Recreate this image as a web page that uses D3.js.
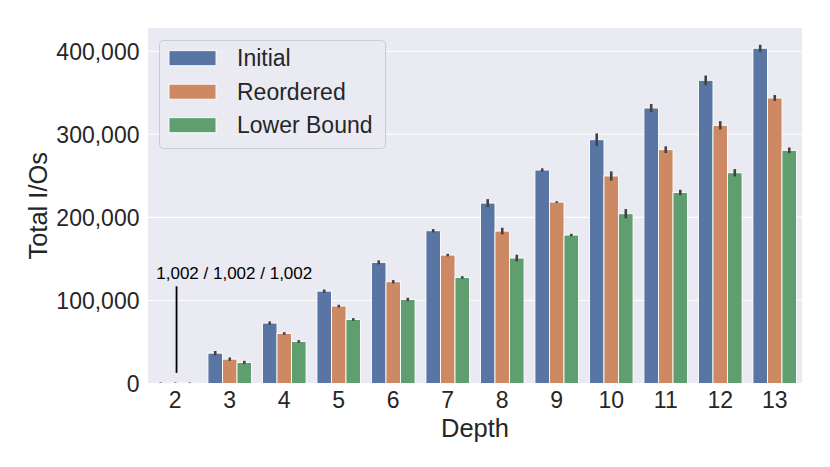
<!DOCTYPE html>
<html>
<head>
<meta charset="utf-8">
<script src="https://cdn.jsdelivr.net/npm/d3@7"></script>
<style>
  html, body { margin: 0; padding: 0; background: #ffffff; }
  svg { display: block; }
  text { font-family: "Liberation Sans", Arial, sans-serif; fill: #262626; }
</style>
</head>
<body>
<svg id="chart" width="830" height="467"></svg>
<script>
const depths = [2, 3, 4, 5, 6, 7, 8, 9, 10, 11, 12, 13];
const seriesNames = ["Initial", "Reordered", "Lower Bound"];
const initial    = [1002, 36500, 72700, 111200, 145800, 183900, 217200, 257000, 293500, 331700, 365000, 403600];
const reordered  = [1002, 29300, 60200,  93200, 122500, 154600, 183500, 218400, 249800, 281500, 310800, 343700];
const lowerBound = [1002, 25300, 50600,  77100, 101200, 127700, 151000, 178700, 204400, 230000, 253700, 280700];
const initialErr    = [300, 2600, 2000, 2000, 2400, 2000, 4800, 2000, 7600, 4800, 5800, 4200];
const reorderedErr  = [300, 2000, 1600, 1600, 2000, 1500, 4000, 1000, 5600, 4000, 5000, 3600];
const lowerBoundErr = [300, 2000, 1600, 1600, 2000, 1500, 4000, 1500, 5600, 3200, 4400, 3400];
const yTicks = [0, 100000, 200000, 300000, 400000];
const colors = ["#5975a4", "#cc8963", "#5f9e6e"];

(function () {
const values = [initial, reordered, lowerBound];
const errs = [initialErr, reorderedErr, lowerBoundErr];

const svg = d3.select("#chart");
const pl = 148, pr = 802, pt = 28, pb = 383.5;

const x = d3.scaleBand().domain(depths).range([pl, pr]).padding(0);
const inner = d3.scaleBand().domain(seriesNames)
  .range([x.bandwidth() * 0.1, x.bandwidth() * 0.9]).padding(0);
const y = d3.scaleLinear().domain([0, 428000]).range([pb, pt]);

// background
svg.append("rect").attr("x", pl).attr("y", pt)
  .attr("width", pr - pl).attr("height", pb - pt).attr("fill", "#eaeaf2");

// gridlines
svg.append("g").selectAll("line").data(yTicks).join("line")
  .attr("x1", pl).attr("x2", pr)
  .attr("y1", d => y(d)).attr("y2", d => y(d))
  .attr("stroke", "#ffffff").attr("stroke-width", 1.1);

// bars
const rows = [];
depths.forEach((dep, i) => {
  seriesNames.forEach((s, j) => {
    rows.push({ dep, s, j, v: values[j][i], e: errs[j][i] });
  });
});

svg.append("g").selectAll("rect").data(rows).join("rect")
  .attr("x", d => x(d.dep) + inner(d.s))
  .attr("width", inner.bandwidth())
  .attr("y", d => y(d.v))
  .attr("height", d => y(0) - y(d.v))
  .attr("fill", d => colors[d.j])
  .attr("stroke", "#ffffff").attr("stroke-width", 0.9);

// error bars
svg.append("g").selectAll("line").data(rows).join("line")
  .attr("x1", d => x(d.dep) + inner(d.s) + inner.bandwidth() / 2)
  .attr("x2", d => x(d.dep) + inner(d.s) + inner.bandwidth() / 2)
  .attr("y1", d => y(d.v - d.e))
  .attr("y2", d => y(d.v + d.e))
  .attr("stroke", "#424242").attr("stroke-width", 2.6);

// y tick labels
const fmt = d3.format(",");
svg.append("g").selectAll("text").data(yTicks).join("text")
  .attr("x", 139.5).attr("y", d => y(d)).attr("dy", "0.36em")
  .attr("text-anchor", "end").attr("font-size", 23)
  .text(d => fmt(d));

// x tick labels
svg.append("g").selectAll("text").data(depths).join("text")
  .attr("x", d => x(d) + x.bandwidth() / 2).attr("y", 408)
  .attr("text-anchor", "middle").attr("font-size", 23)
  .text(d => d);

// axis labels
svg.append("text").attr("x", (pl + pr) / 2).attr("y", 436.5)
  .attr("text-anchor", "middle").attr("font-size", 25.5).text("Depth");
svg.append("text")
  .attr("transform", `translate(46.5, ${(pt + pb) / 2}) rotate(-90)`)
  .attr("text-anchor", "middle").attr("font-size", 25.5).text("Total I/Os");

// annotation for depth 2
const c2 = x(depths[0]) + x.bandwidth() / 2;
svg.append("line")
  .attr("x1", c2 + 1.3).attr("x2", c2 + 1.3)
  .attr("y1", y(12800)).attr("y2", y(117000))
  .attr("stroke", "#000000").attr("stroke-width", 1.8);
svg.append("text")
  .attr("x", c2 + 59).attr("y", y(125600))
  .attr("text-anchor", "middle").attr("font-size", 17)
  .style("fill", "#000000")
  .text(`${fmt(initial[0])} / ${fmt(reordered[0])} / ${fmt(lowerBound[0])}`);

// legend
const lg = svg.append("g").attr("transform", "translate(159,40)");
lg.append("rect").attr("x", 0.5).attr("y", 0.5).attr("width", 226).attr("height", 108)
  .attr("rx", 4).attr("ry", 4)
  .attr("fill", "#eaeaf2").attr("fill-opacity", 0.8)
  .attr("stroke", "#cccccc").attr("stroke-width", 1);
seriesNames.forEach((s, j) => {
  const cy = 18.2 + j * 33.5;
  lg.append("rect").attr("x", 10).attr("y", cy - 7.5).attr("width", 47).attr("height", 15)
    .attr("fill", colors[j]).attr("stroke", "#ffffff").attr("stroke-width", 0.9);
  lg.append("text").attr("x", 78).attr("y", cy).attr("dy", "0.36em")
    .attr("font-size", 23).text(s);
});
})();
</script>
</body>
</html>
